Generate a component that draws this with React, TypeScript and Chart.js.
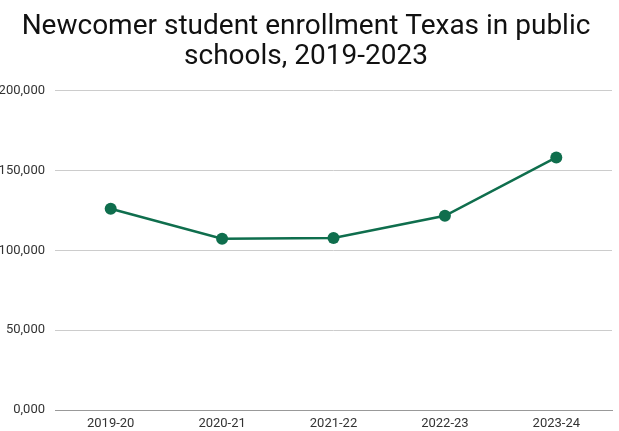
import React, { useEffect, useRef } from "react";
import { Chart, registerables } from "chart.js";

Chart.register(...registerables);

const categories = ["2019-20", "2020-21", "2021-22", "2022-23", "2023-24"];
const enrollment = [126100, 107300, 107800, 121700, 158300];
const yTickValues = [0, 50000, 100000, 150000, 200000];
const yTickLabels = ["0,000", "50,000", "100,000", "150,000", "200,000"];
const titleLines = ["Newcomer student enrollment Texas in public", "schools, 2019-2023"];

export default function App() {
  const ref = useRef<HTMLCanvasElement | null>(null);
  useEffect(() => {
    if (!ref.current) return;
    const chart = new Chart(ref.current, {
      type: "line",
      data: {
        labels: categories,
        datasets: [
          {
            data: enrollment,
            borderColor: "#0f6e4d",
            backgroundColor: "#0f6e4d",
            borderWidth: 2.5,
            pointRadius: 6,
            pointHoverRadius: 6,
            pointBorderWidth: 0,
            tension: 0,
          },
        ],
      },
      options: {
        animation: false,
        responsive: false,
        layout: { padding: { left: 0, right: 7, top: 12, bottom: 0 } },
        plugins: {
          legend: { display: false },
          tooltip: { enabled: false },
          title: {
            display: true,
            text: titleLines,
            color: "#111",
            font: { family: "Roboto", size: 28, weight: "normal", lineHeight: 1.07 },
            padding: { top: 0, bottom: 19 },
          },
        },
        scales: {
          x: {
            offset: true,
            grid: { display: false, drawTicks: false },
            border: { display: true, color: "#999", width: 1 },
            afterFit: (scale: any) => {
              scale.height = 21;
            },
            ticks: { color: "#333", font: { family: "Roboto", size: 13 }, padding: 6 },
          },
          y: {
            min: 0,
            max: 200000,
            afterBuildTicks: (scale: any) => {
              scale.ticks = yTickValues.map((v) => ({ value: v }));
            },
            afterFit: (scale: any) => {
              scale.width = 55;
            },
            grid: { color: "#cccccc", drawTicks: false },
            border: { display: false },
            ticks: {
              color: "#333",
              font: { family: "Roboto", size: 13 },
              padding: 10,
              callback: (v: any) => {
                const i = yTickValues.indexOf(Number(v));
                return i >= 0 ? yTickLabels[i] : "";
              },
            },
          },
        },
      },
    });
    return () => chart.destroy();
  }, []);
  return (
    <div style={{ position: "fixed", left: 0, top: 0, width: 619, height: 431, background: "#fff" }}>
      <canvas ref={ref} width={619} height={431} style={{ display: "block" }} />
    </div>
  );
}
